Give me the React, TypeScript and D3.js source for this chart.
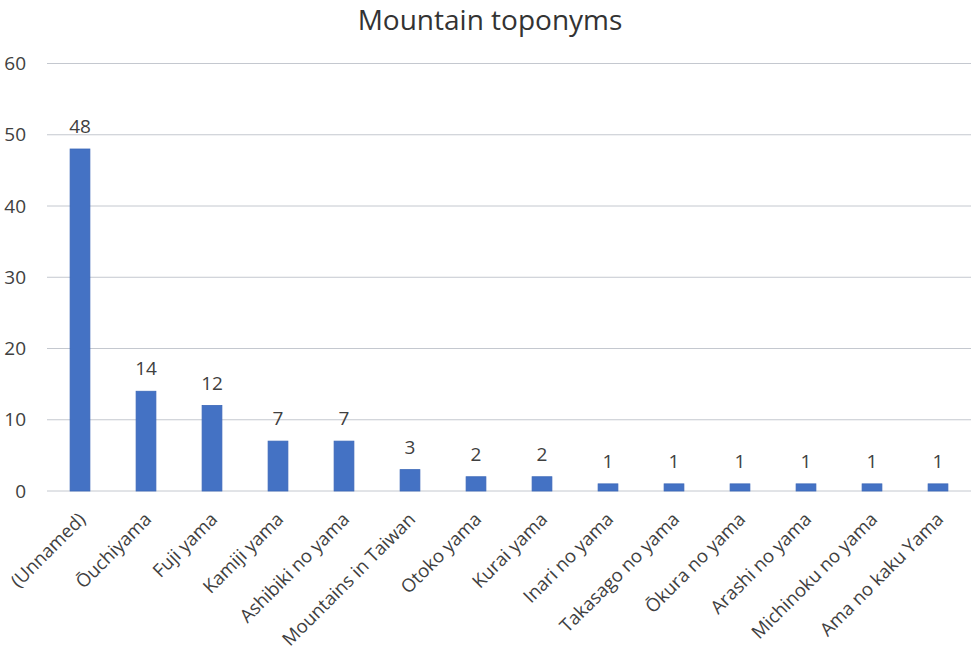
import React, { useEffect, useRef } from 'react';
import * as d3 from 'd3';

const categories = [
  '(Unnamed)', 'Ōuchiyama', 'Fuji yama', 'Kamiji yama', 'Ashibiki no yama',
  'Mountains in Taiwan', 'Otoko yama', 'Kurai yama', 'Inari no yama',
  'Takasago no yama', 'Ōkura no yama', 'Arashi no yama', 'Michinoku no yama',
  'Ama no kaku Yama',
];
const counts = [48, 14, 12, 7, 7, 3, 2, 2, 1, 1, 1, 1, 1, 1];
const yTicks = [0, 10, 20, 30, 40, 50, 60];

const W = 974;
const H = 659;
const FONT = '"Open Sans", "Noto Sans", sans-serif';

const App = () => {
  const svgRef = useRef<SVGSVGElement>(null);

  useEffect(() => {
    const svg = d3.select(svgRef.current);
    svg.selectAll('*').remove();

    const x = d3.scaleBand<string>()
      .domain(categories)
      .range([47, 971])
      .paddingInner(0.7)
      .paddingOuter(0.35);
    const y = d3.scaleLinear().domain([0, 60]).range([491, 63.5]);

    // title
    svg.append('text')
      .attr('x', 490)
      .attr('y', 30)
      .attr('text-anchor', 'middle')
      .style('font-family', FONT)
      .style('font-size', '28px')
      .style('fill', '#333')
      .text('Mountain toponyms');

    // gridlines
    svg.append('g')
      .selectAll('line')
      .data(yTicks)
      .join('line')
      .attr('x1', 47)
      .attr('x2', 971)
      .attr('y1', d => y(d))
      .attr('y2', d => y(d))
      .attr('stroke', '#c4c8cf')
      .attr('stroke-width', 1);

    // y tick labels
    svg.append('g')
      .selectAll('text')
      .data(yTicks)
      .join('text')
      .attr('x', 26)
      .attr('y', d => y(d))
      .attr('dy', '0.35em')
      .attr('text-anchor', 'end')
      .style('font-family', FONT)
      .style('font-size', '19px')
      .style('fill', '#404040')
      .text(d => d);

    // bars
    svg.append('g')
      .selectAll('rect')
      .data(counts)
      .join('rect')
      .attr('x', (d, i) => x(categories[i])!)
      .attr('y', d => y(d))
      .attr('width', x.bandwidth())
      .attr('height', d => y(0) - y(d))
      .attr('fill', '#4472c4')
      .attr('stroke', '#3a67b8')
      .attr('stroke-width', 0.8);

    // value labels
    svg.append('g')
      .selectAll('text')
      .data(counts)
      .join('text')
      .attr('x', (d, i) => x(categories[i])! + x.bandwidth() / 2)
      .attr('y', d => y(d) - 16)
      .attr('text-anchor', 'middle')
      .style('font-family', FONT)
      .style('font-size', '19px')
      .style('fill', '#404040')
      .text(d => d);

    // category labels, rotated
    svg.append('g')
      .selectAll('text')
      .data(categories)
      .join('text')
      .attr('transform', d => `translate(${x(d)! + x.bandwidth() / 2 + 2},${516}) rotate(-45)`)
      .attr('text-anchor', 'end')
      .attr('dy', '0.35em')
      .style('font-family', FONT)
      .style('font-size', '18.5px')
      .style('fill', '#404040')
      .text(d => d);
  }, []);

  return (
    <svg ref={svgRef} width={W} height={H} viewBox={`0 0 ${W} ${H}`}
      style={{ position: 'absolute', left: 0, top: 0, background: '#fff' }} />
  );
};

export default App;
